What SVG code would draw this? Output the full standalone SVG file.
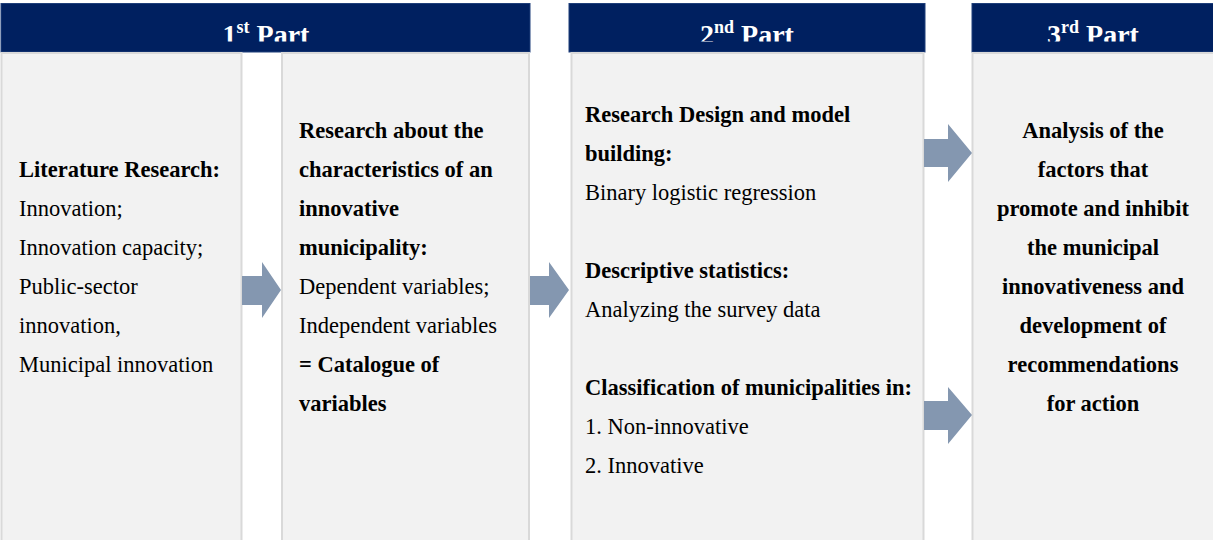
<svg xmlns="http://www.w3.org/2000/svg" width="1213" height="540" viewBox="0 0 1213 540">
<style>
.hdr{fill:#002060;stroke:#1f3f7a;stroke-width:1}
.box{fill:#f2f2f2;stroke:#d9d9d9;stroke-width:2}
.ht{font-family:"Liberation Serif","Times New Roman",serif;font-weight:bold;font-size:28px;fill:#ffffff;text-anchor:middle}
.sup{font-size:18px}
.t{font-family:"Liberation Serif","Times New Roman",serif;font-size:22.5px;fill:#000000}
.b{font-weight:bold}
.c{text-anchor:middle}
.arr{fill:#8497b0}
</style>
<defs>
<clipPath id="c1"><rect x="1" y="3" width="529" height="38.5"/></clipPath>
<clipPath id="c2"><rect x="569" y="3" width="356" height="38.5"/></clipPath>
<clipPath id="c3"><rect x="972" y="3" width="241" height="38.5"/></clipPath>
</defs>
<rect width="1213" height="540" fill="#ffffff"/>

<g id="header1">
<rect class="hdr" x="1" y="3.5" width="529" height="48.5"/>
<text class="ht" x="266" y="43.5" clip-path="url(#c1)">1<tspan class="sup" dy="-11">st</tspan><tspan dy="11"> Part</tspan></text>
</g>
<g id="header2">
<rect class="hdr" x="569" y="3.5" width="356" height="48.5"/>
<text class="ht" x="747" y="43.5" clip-path="url(#c2)">2<tspan class="sup" dy="-11">nd</tspan><tspan dy="11"> Part</tspan></text>
</g>
<g id="header3">
<rect class="hdr" x="972" y="3.5" width="242" height="48.5"/>
<text class="ht" x="1093" y="43.5" clip-path="url(#c3)">3<tspan class="sup" dy="-11">rd</tspan><tspan dy="11"> Part</tspan></text>
</g>

<g id="box1">
<rect class="box" x="1.5" y="53" width="240" height="490"/>
<text class="t b" x="19" y="177">Literature Research:</text>
<text class="t" x="19" y="216">Innovation;</text>
<text class="t" x="19" y="255">Innovation capacity;</text>
<text class="t" x="19" y="294">Public-sector</text>
<text class="t" x="19" y="333">innovation,</text>
<text class="t" x="19" y="372">Municipal innovation</text>
</g>

<g id="box2">
<rect class="box" x="282" y="53" width="247" height="490"/>
<text class="t b" x="299" y="138">Research about the</text>
<text class="t b" x="299" y="177">characteristics of an</text>
<text class="t b" x="299" y="216">innovative</text>
<text class="t b" x="299" y="255">municipality:</text>
<text class="t" x="299" y="294">Dependent variables;</text>
<text class="t" x="299" y="333">Independent variables</text>
<text class="t b" x="299" y="372">= Catalogue of</text>
<text class="t b" x="299" y="411">variables</text>
</g>

<g id="box3">
<rect class="box" x="571.5" y="53" width="352" height="490"/>
<text class="t b" x="585" y="122">Research Design and model</text>
<text class="t b" x="585" y="161">building:</text>
<text class="t" x="585" y="200">Binary logistic regression</text>
<text class="t b" x="585" y="278">Descriptive statistics:</text>
<text class="t" x="585" y="317">Analyzing the survey data</text>
<text class="t b" x="585" y="395">Classification of municipalities in:</text>
<text class="t" x="585" y="434">1. Non-innovative</text>
<text class="t" x="585" y="473">2. Innovative</text>
</g>

<g id="box4">
<rect class="box" x="972.5" y="53" width="243" height="490"/>
<text class="t b c" x="1093" y="138">Analysis of the</text>
<text class="t b c" x="1093" y="177">factors that</text>
<text class="t b c" x="1093" y="216">promote and inhibit</text>
<text class="t b c" x="1093" y="255">the municipal</text>
<text class="t b c" x="1093" y="294">innovativeness and</text>
<text class="t b c" x="1093" y="333">development of</text>
<text class="t b c" x="1093" y="372">recommendations</text>
<text class="t b c" x="1093" y="411">for action</text>
</g>

<g id="connectors">
<polygon class="arr" points="242,276 262,276 262,262 281,290 262,318 262,305 242,305"/>
<polygon class="arr" points="530,276 549,276 549,262 569,290 549,318 549,305 530,305"/>
<polygon class="arr" points="924,139 948,139 948,124 972,153 948,182 948,167 924,167"/>
<polygon class="arr" points="924,401 948,401 948,387 972,415 948,444 948,430 924,430"/>
</g>
</svg>
